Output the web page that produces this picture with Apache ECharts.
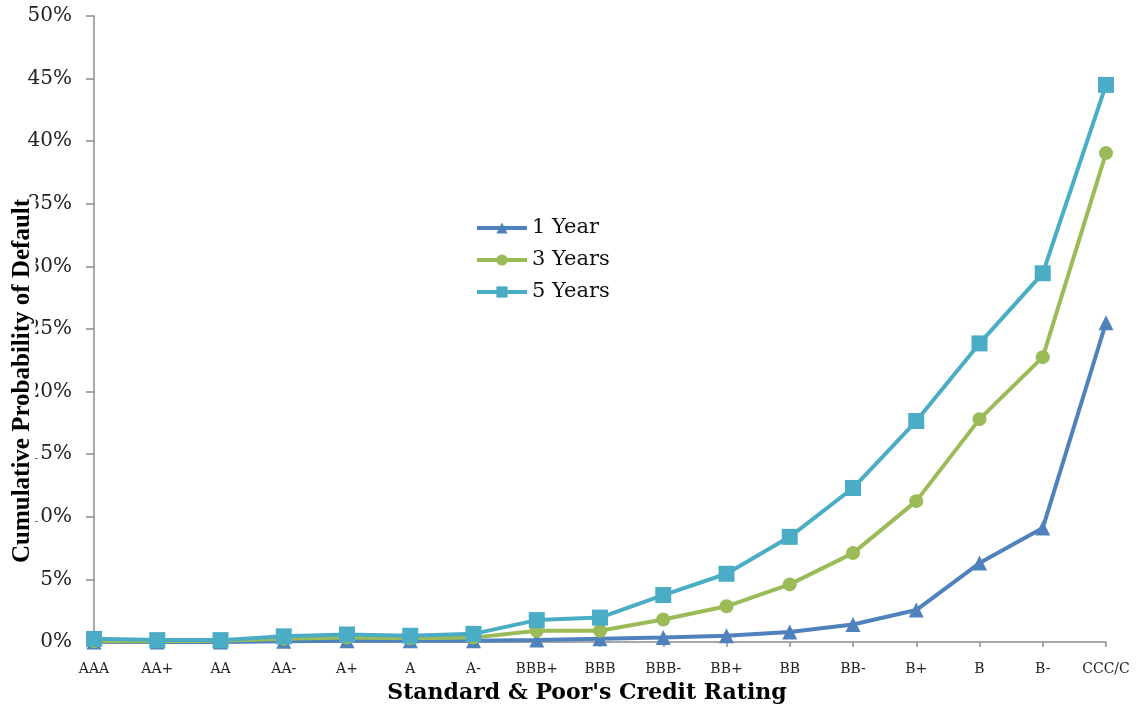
<!DOCTYPE html>
<html>
<head>
<meta charset="utf-8">
<script src="https://cdn.jsdelivr.net/npm/echarts@6/dist/echarts.min.js"></script>
<style>
  html, body { margin: 0; padding: 0; background: #fff; }
  #chart { width: 1141px; height: 704px; }
</style>
</head>
<body>
<div id="chart"></div>
<script>
// 信用评级（横轴类别）
var ratings = ['AAA', 'AA+', 'AA', 'AA-', 'A+', 'A', 'A-', 'BBB+', 'BBB', 'BBB-',
  'BB+', 'BB', 'BB-', 'B+', 'B', 'B-', 'CCC/C']

// 各期限的累计违约概率（%）
var oneYear = [0, 0, 0, 0.05, 0.1, 0.1, 0.1, 0.15, 0.25, 0.35, 0.5, 0.8, 1.4, 2.55, 6.3, 9.1, 25.5]
var threeYears = [0.05, 0.05, 0.1, 0.25, 0.35, 0.3, 0.35, 0.9, 0.9, 1.8, 2.85, 4.6, 7.1, 11.25, 17.8, 22.75, 39.05]
var fiveYears = [0.25, 0.15, 0.15, 0.45, 0.6, 0.5, 0.65, 1.75, 1.95, 3.75, 5.45, 8.4, 12.3, 17.65, 23.85, 29.45, 44.5]

var chart = echarts.init(document.getElementById('chart'))

function lineSeries (name, data, color, symbol, size) {
  return {
    name: name,
    type: 'line',
    data: data,
    symbol: symbol,
    symbolSize: size,
    lineStyle: { color: color, width: 4 },
    itemStyle: { color: color },
    animation: false
  }
}

chart.setOption({
  animation: false,
  grid: { left: 94, right: 35, top: 16, bottom: 62, containLabel: false, outerBoundsMode: 'none' },
  legend: {
    orient: 'vertical',
    left: 470,
    top: 212,
    itemWidth: 50,
    itemHeight: 14,
    itemGap: 10,
    lineStyle: { width: 4 },
    textStyle: { fontFamily: 'DejaVu Serif', fontSize: 21, color: '#111', lineHeight: 22 },
    data: ['1 Year', '3 Years', '5 Years']
  },
  xAxis: {
    type: 'category',
    data: ratings,
    boundaryGap: false,
    name: "Standard & Poor's Credit Rating",
    nameLocation: 'middle',
    nameGap: 40,
    nameTextStyle: { fontFamily: 'DejaVu Serif', fontWeight: 'bold', fontSize: 22, color: '#000', padding: [0, 26, 0, 0] },
    axisLine: { lineStyle: { color: '#8c8c8c', width: 1.5 } },
    axisTick: { alignWithLabel: true, length: 5, lineStyle: { color: '#8c8c8c', width: 1.5 } },
    axisLabel: { fontFamily: 'DejaVu Serif', fontSize: 14, color: '#222', margin: 20, interval: 0 },
    splitLine: { show: false }
  },
  yAxis: {
    type: 'value',
    min: 0,
    max: 50,
    interval: 5,
    axisLine: { show: true, lineStyle: { color: '#8c8c8c', width: 1.5 } },
    axisTick: { show: true, length: 8, lineStyle: { color: '#8c8c8c', width: 1.5 } },
    axisLabel: { fontFamily: 'DejaVu Serif', fontSize: 20, color: '#222', margin: 22, formatter: '{value}%' },
    splitLine: { show: false }
  },
  graphic: [{
    type: 'text',
    z: 100,
    x: 23,
    y: 381,
    rotation: Math.PI / 2,
    style: {
      text: 'Cumulative Probability of Default',
      font: 'bold 25px "Liberation Serif"',
      fill: '#000',
      align: 'center',
      verticalAlign: 'middle',
      backgroundColor: '#fff'
    }
  }],
  series: [
    lineSeries('1 Year', oneYear, '#4F81BD', 'triangle', 15),
    lineSeries('3 Years', threeYears, '#9BBB59', 'circle', 14),
    lineSeries('5 Years', fiveYears, '#4BACC6', 'rect', 16)
  ]
})
</script>
</body>
</html>
